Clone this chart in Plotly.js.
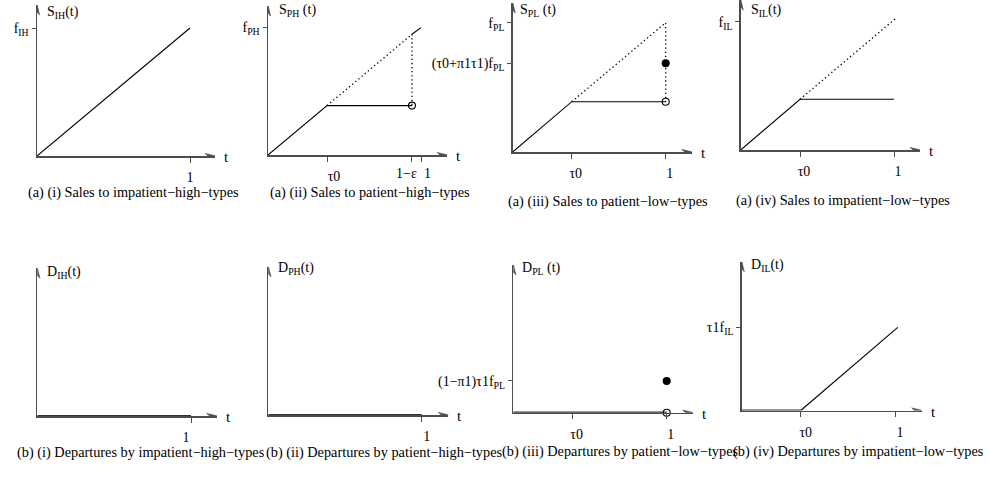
<!DOCTYPE html>
<html>
<head>
<meta charset="utf-8">
<script src="https://cdn.plot.ly/plotly-3.0.1.min.js"></script>
<style>html,body{margin:0;padding:0;background:#fff;}#chart{width:990px;height:479px;}</style>
</head>
<body>
<div id="chart"></div>
<script>
// ---------------- DATA ----------------
// (a)(i) Sales to impatient-high-types
const sIH_t = [0, 1];
const sIH_v = [0, 1];
// (a)(ii) Sales to patient-high-types
const sPH_t = [0, 0.386, 0.941];
const sPH_v = [0, 0.386, 0.386];
const sPH_dot_t = [0.386, 0.941, 0.941];
const sPH_dot_v = [0.386, 0.943, 0.386];
const sPH_end_t = [0.941, 1.0];
const sPH_end_v = [0.943, 0.995];
const sPH_open_t = [0.941];
const sPH_open_v = [0.386];
// (a)(iii) Sales to patient-low-types
const sPL_t = [0, 0.386, 1];
const sPL_v = [0, 0.389, 0.389];
const sPL_dot_t = [0.386, 1, 1];
const sPL_dot_v = [0.389, 1, 0.389];
const sPL_fill_t = [1];
const sPL_fill_v = [0.686];
const sPL_open_t = [1];
const sPL_open_v = [0.389];
// (a)(iv) Sales to impatient-low-types
const sIL_t = [0, 0.387, 1];
const sIL_v = [0, 0.395, 0.395];
const sIL_dot_t = [0.387, 1.01];
const sIL_dot_v = [0.395, 1.025];
// (b)(i) Departures by impatient-high-types
const dIH_t = [0, 1];
const dIH_v = [0, 0];
// (b)(ii) Departures by patient-high-types
const dPH_t = [0, 1];
const dPH_v = [0, 0];
// (b)(iii) Departures by patient-low-types
const dPL_t = [0, 1];
const dPL_v = [0, 0];
const dPL_fill_t = [1];
const dPL_fill_v = [0.248];
const dPL_open_t = [1];
const dPL_open_v = [0];
// (b)(iv) Departures by impatient-low-types
const dIL_flat_t = [0, 0.385];
const dIL_flat_v = [0, 0];
const dIL_t = [0.385, 1.018];
const dIL_v = [0, 0.65];

// tick values / labels
const xTickVals = [[1], [0.386, 0.941, 1], [0.386, 1], [0.387, 1], [1], [1], [0.387, 1], [0.385, 1]];
const xTickText = [["1"], ["τ0", "1−ε", "1"], ["τ0", "1"], ["τ0", "1"], ["1"], ["1"], ["τ0", "1"], ["τ0", "1"]];
const yTickVals = [[1], [1], [1, 0.686], [1], [], [], [0.248], [0.65]];
const yTickText = [["f<sub>IH</sub>"], ["f<sub>PH</sub>"], ["f<sub>PL</sub>", "(τ0+π1τ1)f<sub>PL</sub>"], ["f<sub>IL</sub>"], [], [], ["(1−π1)τ1f<sub>PL</sub>"], ["τ1f<sub>IL</sub>"]];
const yLabels = ["S<sub>IH</sub>(t)", "S<sub>PH</sub> (t)", "S<sub>PL</sub> (t)", "S<sub>IL</sub>(t)",
                 "D<sub>IH</sub>(t)", "D<sub>PH</sub>(t)", "D<sub>PL</sub> (t)", "D<sub>IL</sub>(t)"];
const captions = ["(a) (i) Sales to impatient−high−types", "(a) (ii) Sales to patient−high−types",
                  "(a) (iii) Sales to patient−low−types", "(a) (iv) Sales to impatient−low−types",
                  "(b) (i) Departures by impatient−high−types", "(b) (ii) Departures by patient−high−types",
                  "(b) (iii) Departures by patient−low−types", "(b) (iv) Departures by impatient−low−types"];

// ---------------- LAYOUT GEOMETRY (pixels) ----------------
const W = 990, H = 479;
const G = [
  {ox:37,    oy:156,   x1:190,   top:5,     end:215,   uy:128,   shift:0, lab:[45, 12],   cap:[133, 192]},
  {ox:268,   oy:155,   x1:421,   top:6,     end:447,   uy:128,   shift:0, lab:[277, 10],  cap:[369.7, 192]},
  {ox:512.7, oy:152,   x1:665.7, top:3,     end:691.7, uy:129.3, shift:4, lab:[518, 10],  cap:[608.3, 201]},
  {ox:740.7, oy:150,   x1:894,   top:0,     end:920,   uy:128.3, shift:4, lab:[749, 10],  cap:[842.5, 200]},
  {ox:37.3,  oy:416,   x1:191,   top:268.3, end:216.7, uy:128,   shift:-5, lab:[45, 272], cap:[140.5, 452]},
  {ox:268.3, oy:415,   x1:421.7, top:266.7, end:448.3, uy:128,   shift:5, lab:[276, 268], cap:[384.7, 452]},
  {ox:513.3, oy:412.7, x1:666.7, top:265,   end:692.7, uy:128,   shift:4, lab:[520, 268], cap:[620, 451]},
  {ox:741.7, oy:410.5, x1:895,   top:261.7, end:921.7, uy:128,   shift:5, lab:[749, 265], cap:[858, 451]}
];
const px = x => x / W, py = y => 1 - y / H;

const FONT = "Liberation Serif, Times New Roman, serif";
const AX = "#4d4d4d";
const LINE = {color: "#000", width: 1.1};
const ZERO = {color: "#333", width: 2.2};
const DOT = {color: "#000", width: 1.3, dash: "1.3px,2.8px"};
const STANDOFF = 3;

function tr(i, t, v, line) {
  const n = i + 1;
  return {x: t, y: v, xaxis: "x" + n, yaxis: "y" + n, type: "scatter", mode: "lines",
          line: line, cliponaxis: false, hoverinfo: "skip", showlegend: false};
}
function mk(i, t, v, open) {
  const n = i + 1;
  return {x: t, y: v, xaxis: "x" + n, yaxis: "y" + n, type: "scatter", mode: "markers", cliponaxis: false,
          marker: open ? {symbol: "circle-open", size: 7, color: "#000", line: {width: 1.1, color: "#000"}}
                       : {symbol: "circle", size: 8, color: "#000"},
          hoverinfo: "skip", showlegend: false};
}

const data = [
  tr(0, sIH_t, sIH_v, LINE),
  tr(1, sPH_dot_t, sPH_dot_v, DOT),
  tr(1, sPH_t, sPH_v, LINE),
  tr(1, sPH_end_t, sPH_end_v, LINE),
  mk(1, sPH_open_t, sPH_open_v, true),
  tr(2, sPL_dot_t, sPL_dot_v, DOT),
  tr(2, sPL_t, sPL_v, LINE),
  mk(2, sPL_fill_t, sPL_fill_v, false),
  mk(2, sPL_open_t, sPL_open_v, true),
  tr(3, sIL_dot_t, sIL_dot_v, DOT),
  tr(3, sIL_t, sIL_v, LINE),
  tr(4, dIH_t, dIH_v, ZERO),
  tr(5, dPH_t, dPH_v, ZERO),
  tr(6, dPL_t, dPL_v, ZERO),
  mk(6, dPL_fill_t, dPL_fill_v, false),
  mk(6, dPL_open_t, dPL_open_v, true),
  tr(7, dIL_flat_t, dIL_flat_v, ZERO),
  tr(7, dIL_t, dIL_v, LINE)
];

const layout = {
  width: W, height: H, margin: {l: 0, r: 0, t: 0, b: 0},
  paper_bgcolor: "#fff", plot_bgcolor: "rgba(0,0,0,0)", showlegend: false,
  font: {family: FONT, size: 14, color: "#000"},
  annotations: [], shapes: []
};

G.forEach((g, i) => {
  const n = i + 1;
  const xmax = (g.end - g.ox) / (g.x1 - g.ox);
  const ymax = (g.oy - g.top) / g.uy;
  let xt = xTickText[i].slice();
  if (i === 1) {
    // the two close labels "1−ε" and "1" are set beside their ticks so they do not collide
    xt = ["\u00a0\u00a0\u00a0\u00a0" + xTickText[1][0], "", ""];
    layout.annotations.push({xref: "x2", yref: "y2", x: xTickVals[1][1], y: 0, text: xTickText[1][1],
      showarrow: false, xanchor: "right", yanchor: "top", xshift: 7, yshift: -6 - STANDOFF, font: {size: 14}});
    layout.annotations.push({xref: "x2", yref: "y2", x: xTickVals[1][2], y: 0, text: xTickText[1][2],
      showarrow: false, xanchor: "left", yanchor: "top", xshift: 1, yshift: -6 - STANDOFF, font: {size: 14}});
  }
  layout["xaxis" + (n === 1 ? "" : n)] = {
    domain: [px(g.ox), px(g.end)], range: [0, xmax], anchor: "y" + n,
    showline: true, linecolor: AX, linewidth: 1.5, zeroline: false, showgrid: false,
    ticks: "outside", ticklen: 5, tickwidth: 1, tickcolor: AX, tickangle: 0,
    tickmode: "array", tickvals: xTickVals[i], ticktext: xt,
    ticklabelshift: g.shift, ticklabelstandoff: STANDOFF,
    tickfont: {family: FONT, size: 14, color: "#000"}, fixedrange: true
  };
  layout["yaxis" + (n === 1 ? "" : n)] = {
    domain: [py(g.oy), py(g.top)], range: [0, ymax], anchor: "x" + n,
    showline: true, linecolor: AX, linewidth: 1.5, zeroline: false, showgrid: false,
    ticks: "outside", ticklen: 4, tickwidth: 1, tickcolor: AX,
    tickmode: "array", tickvals: yTickVals[i], ticktext: yTickText[i],
    tickfont: {family: FONT, size: 14, color: "#000"}, fixedrange: true
  };
  // arrowheads
  layout.shapes.push({type: "path", xref: "x" + n, yref: "y" + n, xsizemode: "pixel", ysizemode: "pixel",
    xanchor: xmax, yanchor: 0, path: "M1,0 L-10,2.6 L-7,0 L-10,-2.6 Z",
    fillcolor: AX, line: {color: AX, width: 0.6}});
  layout.shapes.push({type: "path", xref: "x" + n, yref: "y" + n, xsizemode: "pixel", ysizemode: "pixel",
    xanchor: 0, yanchor: ymax, path: "M0,1 L-2.6,-10 L0,-7 L2.6,-10 Z",
    fillcolor: AX, line: {color: AX, width: 0.6}});
  // "t" at end of horizontal axis
  layout.annotations.push({xref: "paper", yref: "paper", x: px(g.end + 7), y: py(g.oy + 1),
    text: "t", showarrow: false, xanchor: "left", yanchor: "middle", font: {size: 15}});
  // axis label
  layout.annotations.push({xref: "paper", yref: "paper", x: px(g.lab[0]), y: py(g.lab[1]),
    text: yLabels[i], showarrow: false, xanchor: "left", yanchor: "middle", font: {size: 14}});
  // caption
  layout.annotations.push({xref: "paper", yref: "paper", x: px(g.cap[0]), y: py(g.cap[1]),
    text: captions[i], showarrow: false, xanchor: "center", yanchor: "middle", font: {size: 14.3}});
});

Plotly.newPlot("chart", data, layout, {staticPlot: true, displayModeBar: false});
</script>
</body>
</html>
